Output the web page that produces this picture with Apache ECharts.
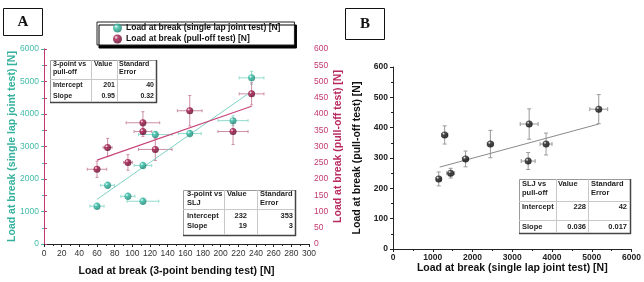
<!DOCTYPE html>
<html><head><meta charset="utf-8">
<script src="https://cdn.jsdelivr.net/npm/echarts@6/dist/echarts.min.js"></script>
<style>html,body{margin:0;padding:0;background:#fff}#c{width:644px;height:282px}</style>
</head><body><div id="c"></div><script>
// ---- Panel A data (x = 3-point bending load) ----
const bendX      = [60, 72, 95, 112, 112, 126, 165, 214, 235];
const sljY       = [1163, 1806, 1469, 1316, 2418, 3367, 3398, 3796, 5112];
const sljXErr    = [8, 8, 8, 18, 10, 19, 13, 17, 14];
const sljYErr    = [100, 100, 100, 100, 100, 100, 100, 150, 200];
const pullY      = [230, 297, 251, 373, 346, 291, 410, 346, 462];
const pullXErr   = [11, 5, 5, 19, 10, 19, 14, 17, 14];
const pullYErr   = [25, 28, 24, 34, 15, 34, 47, 40, 34];
const sljFitX    = [60, 235];
const sljFitY    = [1372, 4697];
const pullFitX   = [60, 235];
const pullFitY   = [258, 424];
// ---- Panel B data (x = SLJ load, y = pull-off load) ----
const bX         = [1150, 1825, 1450, 1300, 2450, 3400, 3425, 3850, 5175];
const bY         = [231, 297, 250, 376, 346, 290, 412, 346, 461];
const bXErr      = [60, 80, 100, 80, 80, 175, 225, 150, 225];
const bYErr      = [23, 26, 16, 30, 45, 28, 50, 36, 48];
const bFitX      = [1175, 5175];
const bFitY      = [270, 412];
// ---- ticks / labels ----
const aXTicks = {min: 0, max: 300, interval: 20};
const aYLTicks = {min: 0, max: 6000, interval: 1000};
const aYRTicks = {min: 0, max: 600, interval: 50};
const bXTicks = {min: 0, max: 6000, interval: 1000};
const bYTicks = {min: 0, max: 600, interval: 100};
const seriesNames = ['Load at break (single lap joint test) [N]', 'Load at break (pull-off test) [N]'];
const axisNames = {
  aX: 'Load at break (3-point bending test) [N]',
  aYL: 'Load at break (single lap joint test) [N]',
  aYR: 'Load at break (pull-off test) [N]',
  bX: 'Load at break (single lap joint test) [N]',
  bY: 'Load at break (pull-off test) [N]'
};
const table1 = [['3-point vs', 'pull-off'], ['Value'], ['Standard', 'Error'], ['Intercept', '201', '40'], ['Slope', '0.95', '0.32']];
const table2 = [['3-point vs', 'SLJ'], ['Value'], ['Standard', 'Error'], ['Intercept', '232', '353'], ['Slope', '19', '3']];
const table3 = [['SLJ vs', 'pull-off'], ['Value'], ['Standard', 'Error'], ['Intercept', '228', '42'], ['Slope', '0.036', '0.017']];

const FONT = '"Liberation Sans", Arial, sans-serif';
const TEAL_AX = '#45bba8', CRIM_AX = '#c23a70';

function ball(base, dark) {
  return {type: 'radial', x: 0.35, y: 0.32, r: 0.75,
    colorStops: [{offset: 0, color: '#ffffff'}, {offset: 0.28, color: base}, {offset: 1, color: dark}]};
}
const zip = (a, b) => a.map((v, i) => [v, b[i]]);
const zip4 = (a, b, c, d) => a.map((v, i) => [v, b[i], c[i], d[i]]);

function errRender(cap) {
  return function (params, api) {
    const x = api.value(0), y = api.value(1), ex = api.value(2), ey = api.value(3);
    const l = api.coord([x - ex, y]), r = api.coord([x + ex, y]);
    const t = api.coord([x, y + ey]), b = api.coord([x, y - ey]);
    const st = {stroke: api.visual('color'), lineWidth: 1};
    const ln = (x1, y1, x2, y2) => ({type: 'line', shape: {x1, y1, x2, y2}, style: st});
    return {type: 'group', children: [
      ln(l[0], l[1], r[0], r[1]),
      ln(l[0], l[1] - cap, l[0], l[1] + cap),
      ln(r[0], r[1] - cap, r[0], r[1] + cap),
      ln(t[0], t[1], b[0], b[1]),
      ln(t[0] - cap, t[1], t[0] + cap, t[1]),
      ln(b[0] - cap, b[1], b[0] + cap, b[1])
    ]};
  };
}

function table(data, box, fs) {
  const [x0, y0, x1, y1] = box.rect;
  const font = 'bold ' + fs + 'px ' + FONT;
  const ch = [];
  ch.push({type: 'rect', shape: {x: x0 + 0.5, y: y0 + 0.5, width: x1 - x0, height: y1 - y0},
    style: {fill: '#fff', stroke: '#9a9a9a', lineWidth: 1}});
  ch.push({type: 'line', shape: {x1: x1 + 0.5, y1: y0, x2: x1 + 0.5, y2: y1 + 1}, style: {stroke: '#444', lineWidth: 1.5}});
  ch.push({type: 'line', shape: {x1: x0, y1: y1 + 0.5, x2: x1 + 1, y2: y1 + 0.5}, style: {stroke: '#444', lineWidth: 1.5}});
  box.v.forEach(v => ch.push({type: 'line', shape: {x1: v + 0.5, y1: y0, x2: v + 0.5, y2: y1}, style: {stroke: '#c8c8c8', lineWidth: 1}}));
  box.h.forEach(h => ch.push({type: 'line', shape: {x1: x0, y1: h + 0.5, x2: x1, y2: h + 0.5}, style: {stroke: '#c8c8c8', lineWidth: 1}}));
  const txt = (s, x, y, align) => ({type: 'text', x, y, style: {text: s, font, fill: '#222', align, verticalAlign: 'middle'}});
  data[0].forEach((s, i) => ch.push(txt(s, box.c1, box.hy[i], 'left')));
  data[1].forEach((s, i) => ch.push(txt(s, box.c2, box.hy[i], 'left')));
  data[2].forEach((s, i) => ch.push(txt(s, box.c3, box.hy[i], 'left')));
  [data[3], data[4]].forEach((row, r) => {
    ch.push(txt(row[0], box.c1, box.ry[r], 'left'));
    ch.push(txt(row[1], box.r2, box.ry[r], 'right'));
    ch.push(txt(row[2], box.r3, box.ry[r], 'right'));
  });
  return {type: 'group', children: ch, z: 50};
}

const chart = echarts.init(document.getElementById('c'), null, {renderer: 'canvas'});
const plain = v => String(v);
const tickLab = (c) => ({fontSize: 8.5, color: c, fontFamily: FONT, formatter: plain});
const nameSt = (c) => ({fontSize: 10.5, fontWeight: 'bold', color: c, fontFamily: FONT});

chart.setOption({
  animation: false,
  backgroundColor: '#fff',
  grid: [
    {left: 44, top: 49, width: 265, height: 196},
    {left: 393, top: 67, width: 240, height: 182}
  ],
  legend: {
    data: seriesNames, orient: 'vertical', left: 97, top: 22,
    padding: [1, 14, 1, 16], itemGap: 1, itemWidth: 9, itemHeight: 9, icon: 'circle',
    backgroundColor: '#fff', borderColor: '#222', borderWidth: 1,
    shadowColor: '#000', shadowBlur: 0, shadowOffsetX: 2, shadowOffsetY: 3,
    textStyle: {fontSize: 8.5, fontWeight: 'bold', color: '#111', fontFamily: FONT, lineHeight: 10, padding: [0, 0, 0, -1]}
  },
  xAxis: [
    Object.assign({gridIndex: 0, type: 'value', position: 'bottom',
      axisLine: {lineStyle: {color: '#222'}}, axisTick: {length: 3, lineStyle: {color: '#222'}},
      minorTick: {show: true, splitNumber: 2, length: 2, lineStyle: {color: '#222'}},
      splitLine: {show: false}, axisLabel: Object.assign(tickLab('#333'), {margin: 5}),
      name: axisNames.aX, nameLocation: 'middle', nameGap: 22, nameMoveOverlap: false, nameTextStyle: nameSt('#111')}, aXTicks),
    Object.assign({gridIndex: 0, type: 'value', position: 'top',
      axisLine: {lineStyle: {color: '#222'}}, axisTick: {inside: true, length: 3, lineStyle: {color: '#222'}},
      minorTick: {show: true, splitNumber: 2, length: 2, lineStyle: {color: '#222'}},
      splitLine: {show: false}, axisLabel: {show: false}}, aXTicks),
    Object.assign({gridIndex: 1, type: 'value', position: 'bottom',
      axisLine: {lineStyle: {color: '#222'}}, axisTick: {length: 3, lineStyle: {color: '#222'}},
      minorTick: {show: true, splitNumber: 2, length: 2, lineStyle: {color: '#222'}},
      splitLine: {show: false}, axisLabel: Object.assign(tickLab('#222'), {margin: 4, fontWeight: 'bold'}),
      name: axisNames.bX, nameLocation: 'middle', nameGap: 14, nameMoveOverlap: false, nameTextStyle: nameSt('#111')}, bXTicks)
  ],
  yAxis: [
    Object.assign({gridIndex: 0, type: 'value', position: 'left',
      axisLine: {show: true, lineStyle: {color: TEAL_AX}}, axisTick: {show: true, length: 3, lineStyle: {color: TEAL_AX}},
      minorTick: {show: true, splitNumber: 2, length: 2, lineStyle: {color: TEAL_AX}},
      splitLine: {show: false}, axisLabel: Object.assign(tickLab(TEAL_AX), {margin: 5}),
      name: axisNames.aYL, nameLocation: 'middle', nameGap: 26, nameMoveOverlap: false, nameTextStyle: nameSt('#35b19e')}, aYLTicks),
    Object.assign({gridIndex: 0, type: 'value', position: 'right',
      axisLine: {show: true, lineStyle: {color: CRIM_AX}}, axisTick: {show: true, length: 3, lineStyle: {color: CRIM_AX}},
      minorTick: {show: false},
      splitLine: {show: false}, axisLabel: Object.assign(tickLab(CRIM_AX), {margin: 5}),
      name: axisNames.aYR, nameLocation: 'middle', nameGap: 24, nameMoveOverlap: false, nameTextStyle: nameSt('#b82a5f')}, aYRTicks),
    Object.assign({gridIndex: 1, type: 'value', position: 'left',
      axisLine: {show: true, lineStyle: {color: '#222'}}, axisTick: {show: true, length: 3, lineStyle: {color: '#222'}},
      minorTick: {show: true, splitNumber: 2, length: 2, lineStyle: {color: '#222'}},
      splitLine: {show: false}, axisLabel: Object.assign(tickLab('#222'), {margin: 5, fontWeight: 'bold'}),
      name: axisNames.bY, nameLocation: 'middle', nameGap: 30, nameMoveOverlap: false, nameTextStyle: nameSt('#111')}, bYTicks)
  ],
  series: [
    {type: 'custom', name: 'sljErr', xAxisIndex: 0, yAxisIndex: 0, renderItem: errRender(1.5),
      itemStyle: {color: '#93dace'}, encode: {x: 0, y: 1}, data: zip4(bendX, sljY, sljXErr, sljYErr), z: 2, silent: true},
    {type: 'custom', name: 'pullErr', xAxisIndex: 0, yAxisIndex: 1, renderItem: errRender(1.5),
      itemStyle: {color: '#cc8ea5'}, encode: {x: 0, y: 1}, data: zip4(bendX, pullY, pullXErr, pullYErr), z: 2, silent: true},
    {type: 'line', name: 'sljFit', xAxisIndex: 0, yAxisIndex: 0, data: zip(sljFitX, sljFitY), showSymbol: false,
      lineStyle: {color: '#7fd3c5', width: 1}, z: 3},
    {type: 'line', name: 'pullFit', xAxisIndex: 0, yAxisIndex: 1, data: zip(pullFitX, pullFitY), showSymbol: false,
      lineStyle: {color: '#c8457a', width: 1.2}, z: 3},
    {type: 'scatter', name: seriesNames[0], xAxisIndex: 0, yAxisIndex: 0, data: zip(bendX, sljY), symbolSize: 7,
      itemStyle: {color: ball('#3cc2ab', '#17786a')}, z: 5},
    {type: 'scatter', name: seriesNames[1], xAxisIndex: 0, yAxisIndex: 1, data: zip(bendX, pullY), symbolSize: 7,
      itemStyle: {color: ball('#a8194e', '#560624')}, z: 5},
    {type: 'custom', name: 'bErr', xAxisIndex: 2, yAxisIndex: 2, renderItem: errRender(2),
      itemStyle: {color: '#9a9a9a'}, encode: {x: 0, y: 1}, data: zip4(bX, bY, bXErr, bYErr), z: 2, silent: true},
    {type: 'line', name: 'bFit', xAxisIndex: 2, yAxisIndex: 2, data: zip(bFitX, bFitY), showSymbol: false,
      lineStyle: {color: '#8a8a8a', width: 1}, z: 3},
    {type: 'scatter', name: 'bPts', xAxisIndex: 2, yAxisIndex: 2, data: zip(bX, bY), symbolSize: 7,
      itemStyle: {color: ball('#2a2a2a', '#000')}, z: 5}
  ],
  graphic: [
    {type: 'group', children: [
      {type: 'rect', shape: {x: 3.5, y: 8.5, width: 39, height: 27}, style: {fill: '#fff', stroke: '#111', lineWidth: 1}},
      {type: 'text', x: 23, y: 22.5, style: {text: 'A', font: 'bold 15px "Liberation Serif", "DejaVu Serif", serif', fill: '#111', align: 'center', verticalAlign: 'middle'}}
    ]},
    {type: 'group', children: [
      {type: 'rect', shape: {x: 345.5, y: 8.5, width: 39, height: 31}, style: {fill: '#fff', stroke: '#111', lineWidth: 1}},
      {type: 'text', x: 365, y: 24.5, style: {text: 'B', font: 'bold 15px "Liberation Serif", "DejaVu Serif", serif', fill: '#111', align: 'center', verticalAlign: 'middle'}}
    ]},
    table(table1, {rect: [50, 60, 156, 102], v: [91, 117], h: [79], c1: 53, c2: 94, c3: 119, r2: 115, r3: 154,
      hy: [64.5, 72.5], ry: [85, 96]}, 7),
    table(table2, {rect: [183, 190, 295, 235], v: [224, 257], h: [209], c1: 187, c2: 227, c3: 260, r2: 247, r3: 293,
      hy: [194, 202.5], ry: [215.5, 225.5]}, 7.5),
    table(table3, {rect: [519, 179, 630, 233], v: [556, 588], h: [201, 220], c1: 522, c2: 558, c3: 591, r2: 586, r3: 627,
      hy: [184, 193], ry: [207, 227]}, 7.5)
  ]
});
</script></body></html>
